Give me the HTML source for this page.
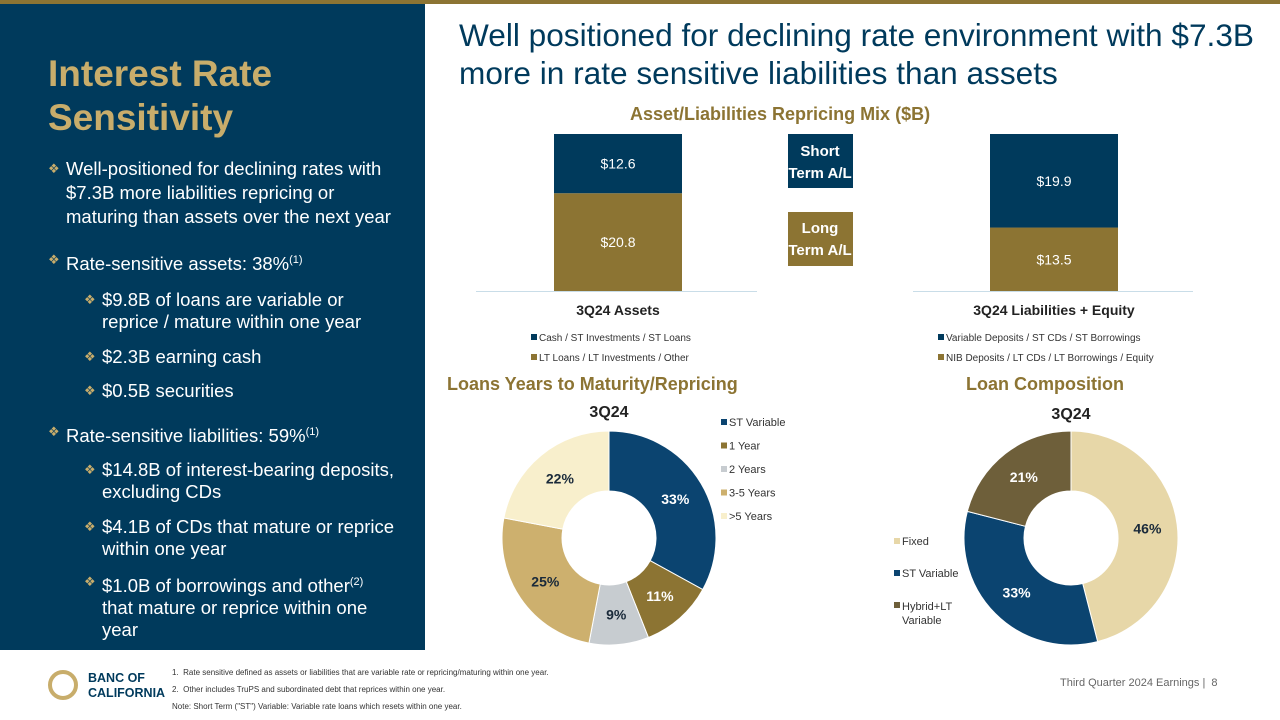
<!DOCTYPE html>
<html><head><meta charset="utf-8"><style>
body{margin:0;width:1280px;height:720px;position:relative;background:#fff;font-family:"Liberation Sans",sans-serif;overflow:hidden}
.a{position:absolute}
#left{left:0;top:4px;width:425px;height:646px;background:#003a5c}
.t{color:#c8ad6b;font-weight:bold;font-size:37px;line-height:44px;left:48px;top:52px}
.b{color:#fff;font-size:18.5px;line-height:22px;position:absolute}
.b i{font-style:normal;color:#c8ad6b;position:absolute;left:-18px;font-size:13px}
</style></head><body>
<div class="a" style="left:0;top:0;width:1280px;height:4px;background:#8c7433"></div>
<div id="left" class="a">
<div class="a t" style="top:48px">Interest Rate<br>Sensitivity</div>
<div class="b" style="left:66px;top:153px;width:330px;line-height:24px"><i>❖</i>Well-positioned for declining rates with $7.3B more liabilities repricing or maturing than assets over the next year</div>
<div class="b" style="left:66px;top:245px"><i>❖</i>Rate-sensitive assets: 38%<sup style="font-size:11px">(1)</sup></div>
<div class="b" style="left:102px;top:285px;width:300px"><i>❖</i>$9.8B of loans are variable or reprice / mature within one year</div>
<div class="b" style="left:102px;top:342px"><i>❖</i>$2.3B earning cash</div>
<div class="b" style="left:102px;top:376px"><i>❖</i>$0.5B securities</div>
<div class="b" style="left:66px;top:417px"><i>❖</i>Rate-sensitive liabilities: 59%<sup style="font-size:11px">(1)</sup></div>
<div class="b" style="left:102px;top:455px;width:305px"><i>❖</i>$14.8B of interest-bearing deposits, excluding CDs</div>
<div class="b" style="left:102px;top:512px;width:305px"><i>❖</i>$4.1B of CDs that mature or reprice within one year</div>
<div class="b" style="left:102px;top:567px;width:292px"><i>❖</i>$1.0B of borrowings and other<sup style="font-size:11px">(2)</sup> that mature or reprice within one year</div>
</div>
<div class="a" style="left:459px;top:16px;width:818px;font-size:31.6px;line-height:38px;color:#003a5c">Well positioned for declining rate environment with $7.3B more in rate sensitive liabilities than assets</div>
<div class="a" style="left:630px;top:104px;font-size:18px;font-weight:bold;color:#8c7433">Asset/Liabilities Repricing Mix ($B)</div>
<div class="a" style="left:447px;top:374px;font-size:18px;font-weight:bold;color:#8c7433">Loans Years to Maturity/Repricing</div>
<div class="a" style="left:966px;top:374px;font-size:18px;font-weight:bold;color:#8c7433">Loan Composition</div>
<svg class="a" style="left:0;top:0" width="1280" height="720" id="chart"></svg>
<div class="a" style="left:48px;top:670px;width:22px;height:22px;border:4px solid #c8ad6b;border-radius:50%"></div>
<div class="a" style="left:88px;top:671px;font-size:12.5px;font-weight:bold;color:#003a5c;line-height:15px">BANC OF<br>CALIFORNIA</div>
<div class="a" style="left:172px;top:664px;font-size:8px;line-height:17px;color:#333">1.&nbsp; Rate sensitive defined as assets or liabilities that are variable rate or repricing/maturing within one year.<br>2.&nbsp; Other includes TruPS and subordinated debt that reprices within one year.<br>Note: Short Term ("ST") Variable: Variable rate loans which resets within one year.</div>
<div class="a" style="left:1060px;top:677px;font-size:11px;color:#666">Third Quarter 2024 Earnings |&nbsp; 8</div>
<script>
const barCats=["3Q24 Assets","3Q24 Liabilities + Equity"];
const shortVals=[12.6,19.9];
const longVals=[20.8,13.5];
const loanCats=["ST Variable","1 Year","2 Years","3-5 Years",">5 Years"];
const loanVals=[33,11,9,25,22];
const compCats=["Fixed","ST Variable","Hybrid+LT Variable"];
const compVals=[46,33,21];
const NS="http://www.w3.org/2000/svg";
const svg=document.getElementById('chart');
function el(t,a,txt){const e=document.createElementNS(NS,t);for(const k in a)e.setAttribute(k,a[k]);if(txt!=null)e.textContent=txt;svg.appendChild(e);return e;}
const base=291,scale=157/33.4;
const y=v=>base-v*scale;
const barX=[554,990],bw=128,navy="#003a5c",olive="#8c7433";
el('line',{x1:476,y1:291.5,x2:757,y2:291.5,stroke:'#c9dde8'});
el('line',{x1:913,y1:291.5,x2:1193,y2:291.5,stroke:'#c9dde8'});
barCats.forEach((c,i)=>{
 const x=barX[i];
 let r=el('rect',{x:x,y:y(longVals[i]),width:bw,height:longVals[i]*scale,fill:olive});
 
 
 r=el('rect',{x:x,y:y(longVals[i]+shortVals[i]),width:bw,height:shortVals[i]*scale,fill:navy});
 
 
 el('text',{x:x+bw/2,y:(y(longVals[i])+base)/2+5,'text-anchor':'middle',fill:'#fff','font-size':14},'$'+longVals[i].toFixed(1));
 el('text',{x:x+bw/2,y:(y(longVals[i]+shortVals[i])+y(longVals[i]))/2+5,'text-anchor':'middle',fill:'#fff','font-size':14},'$'+shortVals[i].toFixed(1));
 el('text',{x:x+bw/2,y:315,'text-anchor':'middle',fill:'#222','font-size':14,'font-weight':'bold'},c);
});
const lg=[["Cash / ST Investments / ST Loans","LT Loans / LT Investments / Other",530],["Variable Deposits / ST CDs / ST Borrowings","NIB Deposits / LT CDs / LT Borrowings / Equity",937]];
lg.forEach(l=>{el('rect',{x:l[2]+1,y:334,width:6,height:6,fill:navy});el('text',{x:l[2]+9,y:341,'font-size':10,fill:'#333'},l[0]);
el('rect',{x:l[2]+1,y:354,width:6,height:6,fill:olive});el('text',{x:l[2]+9,y:361,'font-size':10,fill:'#333'},l[1]);});
el('rect',{x:788,y:134,width:65,height:54,fill:navy});
el('text',{x:820,y:156,'text-anchor':'middle',fill:'#fff','font-size':15,'font-weight':'bold'},'Short');
el('text',{x:820,y:178,'text-anchor':'middle',fill:'#fff','font-size':15,'font-weight':'bold'},'Term A/L');
el('rect',{x:788,y:212,width:65,height:54,fill:olive});
el('text',{x:820,y:233,'text-anchor':'middle',fill:'#fff','font-size':15,'font-weight':'bold'},'Long');
el('text',{x:820,y:255,'text-anchor':'middle',fill:'#fff','font-size':15,'font-weight':'bold'},'Term A/L');
function donut(cx,cy,R,r,vals,cols,lblCols,name){
 const tot=vals.reduce((a,b)=>a+b,0);let a0=-Math.PI/2;
 vals.forEach((v,i)=>{const a1=a0+v/tot*2*Math.PI;const lg=(a1-a0)>Math.PI?1:0;
  const p=[cx+R*Math.cos(a0),cy+R*Math.sin(a0),cx+R*Math.cos(a1),cy+R*Math.sin(a1),cx+r*Math.cos(a1),cy+r*Math.sin(a1),cx+r*Math.cos(a0),cy+r*Math.sin(a0)];
  const s=el('path',{d:`M${p[0]},${p[1]}A${R},${R} 0 ${lg} 1 ${p[2]},${p[3]}L${p[4]},${p[5]}A${r},${r} 0 ${lg} 0 ${p[6]},${p[7]}Z`,fill:cols[i],stroke:'#fff','stroke-width':1});
  
  
  const am=(a0+a1)/2,lr=(R+r)/2;
  el('text',{x:cx+lr*Math.cos(am),y:cy+lr*Math.sin(am)+5,'text-anchor':'middle',fill:lblCols[i],'font-size':14,'font-weight':'bold'},v+'%');
  a0=a1;});
}
const lc=["#0b4470","#8c7433","#c7ccd0","#cdb06e","#f8efcc"];
donut(609,538,107,47,loanVals,lc,["#fff","#fff","#1a2a3a","#1a2a3a","#1a2a3a"],'loans');
el('text',{x:609,y:417,'text-anchor':'middle','font-size':16,'font-weight':'bold',fill:'#222'},'3Q24');
loanCats.forEach((c,i)=>{el('rect',{x:721,y:419+i*23.5,width:6,height:6,fill:lc[i]});el('text',{x:729,y:426+i*23.5,'font-size':11,fill:'#333'},c);});
const cc=["#e7d7a8","#0b4470","#6e5f3a"];
donut(1071,538,107,47,compVals,cc,["#1a2a3a","#fff","#fff"],'comp');
el('text',{x:1071,y:419,'text-anchor':'middle','font-size':16,'font-weight':'bold',fill:'#222'},'3Q24');
[["Fixed",544],["ST Variable",576]].forEach((c,i)=>{el('rect',{x:894,y:c[1]-6,width:6,height:6,fill:cc[i]});el('text',{x:902,y:c[1]+1,'font-size':11,fill:'#333'},c[0]);});
el('rect',{x:894,y:602,width:6,height:6,fill:cc[2]});el('text',{x:902,y:610,'font-size':11,fill:'#333'},'Hybrid+LT');el('text',{x:902,y:624,'font-size':11,fill:'#333'},'Variable');
</script>
</body></html>
